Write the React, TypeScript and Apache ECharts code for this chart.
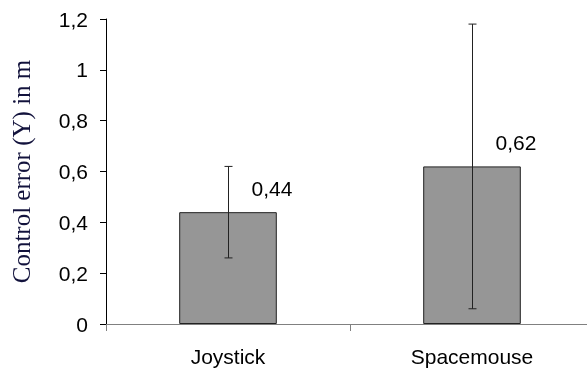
import React, { useEffect, useRef } from "react";
import * as echarts from "echarts";

const categories = ["Joystick", "Spacemouse"];
const meanValues = [0.44, 0.62];
const errorLow = [0.26, 0.06];
const errorHigh = [0.62, 1.18];
const yTicks = [0, 0.2, 0.4, 0.6, 0.8, 1, 1.2];

const fmt = (v: number) => String(Math.round(v * 100) / 100).replace(".", ",");

export default function App() {
  const ref = useRef<HTMLDivElement>(null);
  useEffect(() => {
    if (!ref.current) return;
    const chart = echarts.init(ref.current, undefined, { renderer: "svg" });
    const errData = categories.map((_, i) => [i, errorLow[i], errorHigh[i]]);
    chart.setOption({
      animation: false,
      grid: { left: 106, right: -7, top: 19, bottom: 48, outerBoundsMode: "none", containLabel: false },
      xAxis: {
        type: "category",
        data: categories,
        boundaryGap: true,
        axisLine: { lineStyle: { color: "#808080", width: 1 } },
        axisTick: { show: true, length: 7, lineStyle: { color: "#808080" } },
        axisLabel: {
          color: "#000",
          fontFamily: "Liberation Sans, Arial, sans-serif",
          fontSize: 21,
          margin: 22,
        },
      },
      yAxis: {
        type: "value",
        min: yTicks[0],
        max: yTicks[yTicks.length - 1],
        interval: 0.2,
        splitLine: { show: false },
        axisLine: { show: true, lineStyle: { color: "#000", width: 1 } },
        axisTick: { show: true, length: 6, lineStyle: { color: "#000" } },
        axisLabel: {
          color: "#000",
          fontFamily: "Liberation Sans, Arial, sans-serif",
          fontSize: 21,
          margin: 18,
          formatter: (v: number) => fmt(v),
        },
        name: "Control error (Y) in m",
        nameLocation: "middle",
        nameGap: 72,
        nameTextStyle: {
          color: "#12123c",
          fontFamily: "Liberation Serif, Times New Roman, serif",
          fontSize: 25,
        },
      },
      series: [
        {
          type: "bar",
          data: meanValues,
          barWidth: "40%",
          itemStyle: { color: "#969696", borderColor: "#222", borderWidth: 1 },
          label: {
            show: true,
            position: "top",
            offset: [44, -8],
            color: "#000",
            fontFamily: "Liberation Sans, Arial, sans-serif",
            fontSize: 21,
            formatter: (p: any) => fmt(p.value),
          },
        },
        {
          type: "custom",
          data: errData,
          z: 10,
          renderItem: (params: any, api: any) => {
            const x = api.value(0);
            const lo = api.coord([x, api.value(1)]);
            const hi = api.coord([x, api.value(2)]);
            const cx = Math.round(lo[0]) + 0.5;
            const w = 4;
            const style = { stroke: "#222", lineWidth: 1 };
            return {
              type: "group",
              children: [
                { type: "line", shape: { x1: cx, y1: hi[1], x2: cx, y2: lo[1] }, style },
                { type: "line", shape: { x1: cx - w, y1: hi[1], x2: cx + w, y2: hi[1] }, style },
                { type: "line", shape: { x1: cx - w, y1: lo[1], x2: cx + w, y2: lo[1] }, style },
              ],
            };
          },
        },
      ],
    });
    return () => chart.dispose();
  }, []);
  return <div ref={ref} style={{ width: 587, height: 372, position: "fixed", left: 0, top: 0, overflow: "hidden" }} />;
}
